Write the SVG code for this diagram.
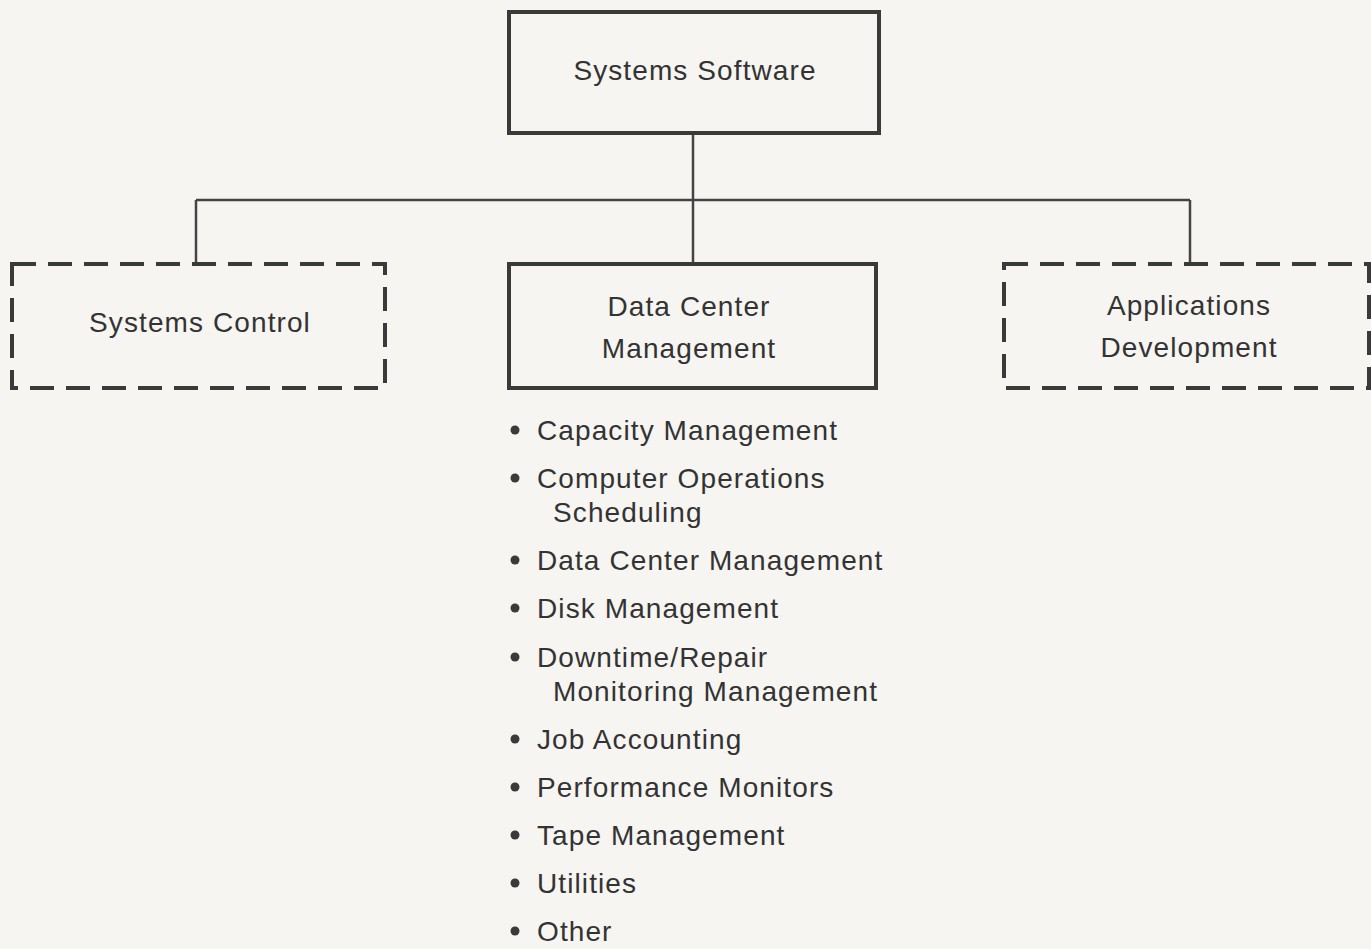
<svg xmlns="http://www.w3.org/2000/svg" width="1371" height="949" viewBox="0 0 1371 949">
<style>
.bg{fill:#f6f5f1}
.box{fill:none;stroke:#3a3a3a;stroke-width:4}
.dash{fill:none;stroke:#3a3a3a;stroke-width:4;stroke-dasharray:24 12}
.ln{fill:none;stroke:#444;stroke-width:2.5}
text{font-family:"Liberation Sans","DejaVu Sans",sans-serif;font-size:28px;fill:#333;letter-spacing:1.1px}
.c{text-anchor:middle}
.dot{fill:#3a3a3a}
</style>
<rect class="bg" x="0" y="0" width="1371" height="949"/>
<g id="connectors">
<path class="ln" d="M693 134 V263"/>
<path class="ln" d="M196 200 H1190"/>
<path class="ln" d="M196 200 V263"/>
<path class="ln" d="M1190 200 V263"/>
</g>
<g id="systems-software">
<rect class="box" x="509" y="12" width="370" height="121"/>
<text class="c" x="695" y="80">Systems Software</text>
</g>
<g id="systems-control">
<rect class="dash" x="12" y="264" width="373" height="124"/>
<text class="c" x="200" y="332">Systems Control</text>
</g>
<g id="data-center-management">
<rect class="box" x="509" y="264" width="367" height="124"/>
<text class="c" x="689" y="316">Data Center</text>
<text class="c" x="689" y="358">Management</text>
</g>
<g id="applications-development">
<rect class="dash" x="1004" y="264" width="365" height="124"/>
<text class="c" x="1189" y="315">Applications</text>
<text class="c" x="1189" y="357">Development</text>
</g>
<g id="list">
<circle class="dot" cx="515" cy="430" r="4.5"/><text x="537" y="440">Capacity Management</text>
<circle class="dot" cx="515" cy="478" r="4.5"/><text x="537" y="488">Computer Operations</text>
<text x="553" y="522">Scheduling</text>
<circle class="dot" cx="515" cy="560" r="4.5"/><text x="537" y="570">Data Center Management</text>
<circle class="dot" cx="515" cy="608" r="4.5"/><text x="537" y="618">Disk Management</text>
<circle class="dot" cx="515" cy="657" r="4.5"/><text x="537" y="667">Downtime/Repair</text>
<text x="553" y="701">Monitoring Management</text>
<circle class="dot" cx="515" cy="739" r="4.5"/><text x="537" y="749">Job Accounting</text>
<circle class="dot" cx="515" cy="787" r="4.5"/><text x="537" y="797">Performance Monitors</text>
<circle class="dot" cx="515" cy="835" r="4.5"/><text x="537" y="845">Tape Management</text>
<circle class="dot" cx="515" cy="883" r="4.5"/><text x="537" y="893">Utilities</text>
<circle class="dot" cx="515" cy="931" r="4.5"/><text x="537" y="941">Other</text>
</g>
</svg>
